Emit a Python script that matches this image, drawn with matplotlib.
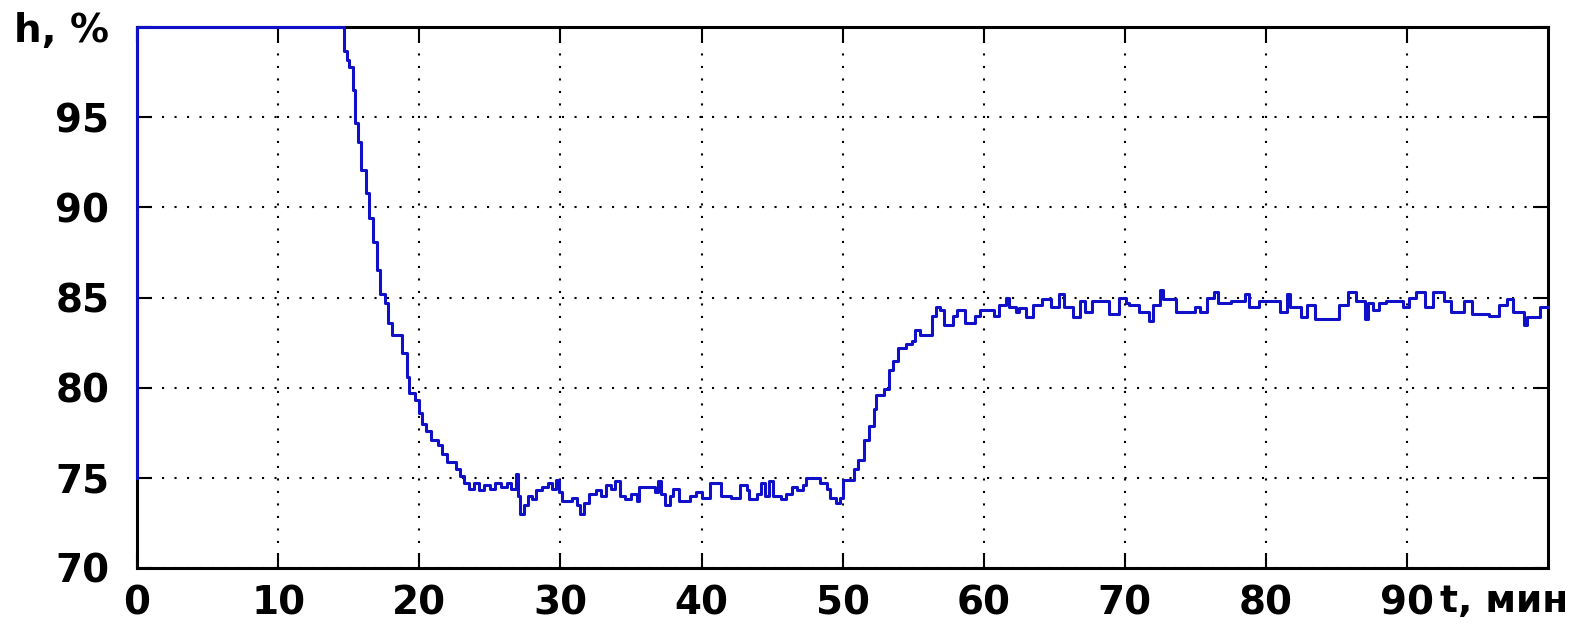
import matplotlib
matplotlib.use("Agg")
import matplotlib.pyplot as plt

# Time, min (step breakpoints) and level h, %
t_min = [0, 0, 14.66, 14.9, 15.05, 15.3, 15.45, 15.65, 15.9, 16.2, 16.45, 16.7, 17.0, 17.2,
         17.55, 17.8, 18.05, 18.8, 19.1, 19.3, 19.7, 20.0, 20.2, 20.5, 20.8, 21.3, 21.6,
         22.0, 22.6, 22.9, 23.2, 23.5, 23.9, 24.2, 24.6, 25.0, 25.4, 25.8, 26.2, 26.5,
         26.85, 27.0, 27.15, 27.45, 27.7, 28.0, 28.3, 28.7, 29.1, 29.4, 29.7, 29.9, 30.1,
         30.8, 31.2, 31.4, 31.7, 32.0, 32.5, 32.9, 33.2, 33.6, 33.9, 34.2, 34.6, 35.0,
         35.4, 35.6, 36.7, 36.9, 37.1, 37.4, 37.8, 38.0, 38.4, 39.2, 39.6, 40.0, 40.6,
         41.4, 42.1, 42.7, 43.2, 43.4, 43.9, 44.2, 44.5, 44.8, 45.1, 45.6, 46.0, 46.4,
         46.8, 47.2, 47.4, 48.4, 48.9, 49.1, 49.5, 49.8, 50.05, 50.8, 51.1, 51.5, 51.9,
         52.2, 52.4, 52.9, 53.3, 53.6, 53.9, 54.5, 54.9, 55.1, 55.5, 56.3, 56.6, 56.9,
         57.2, 57.8, 58.1, 58.7, 59.4, 59.7, 60.7, 61.1, 61.6, 61.8, 62.3, 62.5, 63.0,
         63.5, 64.1, 64.8, 65.3, 65.7, 66.3, 66.8, 67.2, 67.7, 68.9, 69.6, 70.1, 70.3,
         71.0, 71.7, 72.0, 72.5, 72.7, 73.6, 75.0, 75.3, 75.8, 76.3, 76.6, 77.5, 78.5,
         78.8, 79.5, 81.0, 81.5, 81.7, 82.5, 82.9, 83.5, 85.2, 85.8, 86.4, 87.0, 87.2,
         87.6, 88.0, 88.5, 89.7, 90.1, 90.6, 91.3, 91.8, 92.6, 93.1, 94.0, 94.6, 95.8,
         96.5, 97.1, 97.5, 98.3, 98.5, 99.4, 100.0]
h_pct = [75.0, 100.0, 98.7, 98.2, 97.8, 96.5, 94.7, 93.6, 92.1, 90.8, 89.4, 88.1, 86.5, 85.2,
         84.7, 83.6, 82.9, 81.9, 80.6, 79.7, 79.3, 78.6, 78.0, 77.6, 77.1, 76.8, 76.3,
         75.9, 75.5, 75.1, 74.7, 74.4, 74.7, 74.3, 74.6, 74.4, 74.7, 74.5, 74.7, 74.4,
         75.2, 74.0, 73.0, 73.5, 74.0, 73.8, 74.3, 74.5, 74.7, 74.4, 74.9, 74.2, 73.7,
         73.9, 73.5, 73.0, 73.6, 74.1, 74.3, 74.0, 74.6, 74.4, 74.8, 74.0, 73.8, 74.1,
         73.7, 74.5, 74.2, 74.8, 74.1, 73.5, 74.0, 74.4, 73.7, 74.0, 74.2, 73.9, 74.7,
         74.0, 73.9, 74.6, 74.3, 73.8, 74.1, 74.7, 74.0, 74.8, 74.0, 73.8, 74.1, 74.5,
         74.3, 74.6, 75.0, 74.7, 74.4, 73.9, 73.6, 73.9, 74.9, 75.5, 76.0, 77.1, 77.9,
         78.8, 79.6, 79.9, 81.0, 81.5, 82.2, 82.4, 82.6, 83.2, 82.9, 84.0, 84.5, 84.3,
         83.5, 84.0, 84.3, 83.6, 84.0, 84.3, 84.0, 84.6, 85.0, 84.5, 84.2, 84.4, 83.9,
         84.6, 84.9, 84.5, 85.2, 84.5, 83.9, 84.8, 84.2, 84.8, 84.1, 85.0, 84.7, 84.6,
         84.2, 83.7, 84.6, 85.4, 84.9, 84.2, 84.5, 84.2, 85.0, 85.3, 84.7, 84.8, 85.2,
         84.5, 84.8, 84.2, 85.2, 84.5, 83.9, 84.6, 83.8, 84.6, 85.3, 84.8, 83.8, 84.7,
         84.3, 84.7, 84.8, 84.5, 85.0, 85.3, 84.5, 85.3, 84.8, 84.2, 84.8, 84.1, 84.0,
         84.6, 84.9, 84.2, 83.5, 83.9, 84.5, 84.5]

x_ticks = [0, 10, 20, 30, 40, 50, 60, 70, 80, 90]
x_tick_labels = ["0", "10", "20", "30", "40", "50", "60", "70", "80", "90"]
y_ticks = [70, 75, 80, 85, 90, 95, 100]
y_tick_labels = ["70", "75", "80", "85", "90", "95", "h, %"]
x_label = "t, мин"

plt.rcParams['font.family'] = ['DejaVu Sans']

fig = plt.figure(figsize=(15.75, 6.26), dpi=100)
ax = fig.add_axes([0.087, 0.0927, 0.896, 0.864])

ax.step(t_min, h_pct, where='post', color='#1010c8', linewidth=2.2,
        clip_on=False, zorder=5)

ax.set_xlim(0, 100)
ax.set_ylim(70, 100)
ax.set_xticks(x_ticks)
ax.set_xticklabels(x_tick_labels)
ax.set_yticks(y_ticks)
ax.set_yticklabels(y_tick_labels)
ax.grid(True, color='black', linestyle=(0, (1, 5)), linewidth=1.5)

ax.tick_params(axis='both', direction='in', length=11, width=1.5,
               top=True, right=True, labelsize=28, pad=12)
ax.tick_params(axis='y', pad=20)
for lbl in ax.get_xticklabels() + ax.get_yticklabels():
    lbl.set_fontweight('bold')
for sp in ax.spines.values():
    sp.set_linewidth(2.2)
    sp.set_color('black')

ax.text(92.3, -0.03, x_label, transform=ax.get_xaxis_transform(),
        ha='left', va='top', fontsize=27, fontweight='bold')

fig.savefig("out.png", dpi=100, facecolor='white')
